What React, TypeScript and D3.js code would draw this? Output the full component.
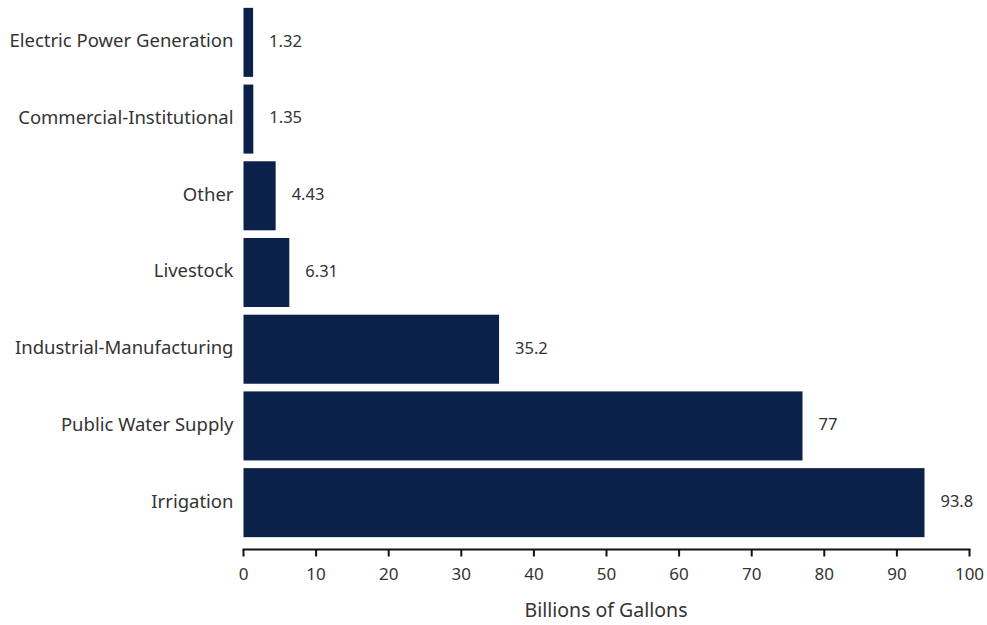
import * as d3 from "d3";

const categories = [
  "Electric Power Generation",
  "Commercial-Institutional",
  "Other",
  "Livestock",
  "Industrial-Manufacturing",
  "Public Water Supply",
  "Irrigation",
];
const values = [1.32, 1.35, 4.43, 6.31, 35.2, 77, 93.8];
const valueLabels = ["1.32", "1.35", "4.43", "6.31", "35.2", "77", "93.8"];
const xTicks = [0, 10, 20, 30, 40, 50, 60, 70, 80, 90, 100];

const WIDTH = 987;
const HEIGHT = 625;
const FONT = "'Noto Sans', 'Source Sans Pro', sans-serif";
const BAR_COLOR = "#0c2149";
const TEXT_COLOR = "#333333";

export default function App() {
  const x = d3.scaleLinear().domain([0, 100]).range([243.5, 969.5]);
  const y = d3
    .scaleBand<string>()
    .domain(categories)
    .range([4, 541])
    .paddingInner(0.1)
    .paddingOuter(0.05);

  const axisY = 549.5;

  return (
    <svg
      width={WIDTH}
      height={HEIGHT}
      style={{ position: "absolute", left: 0, top: 0, background: "#fff" }}
      fontFamily={FONT}
    >
      {categories.map((c, i) => {
        const y0 = y(c) ?? 0;
        const cy = y0 + y.bandwidth() / 2;
        return (
          <g key={c}>
            <rect
              x={x(0)}
              y={y0}
              width={x(values[i]) - x(0)}
              height={y.bandwidth()}
              fill={BAR_COLOR}
            />
            <text
              x={x(0) - 10}
              y={cy}
              textAnchor="end"
              dominantBaseline="middle"
              fontSize={18.5}
              fill={TEXT_COLOR}
            >
              {c}
            </text>
            <text
              x={x(values[i]) + 16}
              y={cy}
              dominantBaseline="middle"
              fontSize={16.5}
              fill={TEXT_COLOR}
            >
              {valueLabels[i]}
            </text>
          </g>
        );
      })}

      {/* x axis */}
      <line x1={x(0) - 1} x2={x(100) + 1} y1={axisY} y2={axisY} stroke="#111" strokeWidth={2} />
      {xTicks.map((t) => (
        <g key={t}>
          <line x1={x(t)} x2={x(t)} y1={axisY} y2={axisY + 7} stroke="#111" strokeWidth={2} />
          <text
            x={x(t)}
            y={575}
            textAnchor="middle"
            dominantBaseline="middle"
            fontSize={17}
            fill={TEXT_COLOR}
          >
            {t}
          </text>
        </g>
      ))}
      <text
        x={606}
        y={612}
        textAnchor="middle"
        dominantBaseline="middle"
        fontSize={19.5}
        fill={TEXT_COLOR}
      >
        Billions of Gallons
      </text>
    </svg>
  );
}
